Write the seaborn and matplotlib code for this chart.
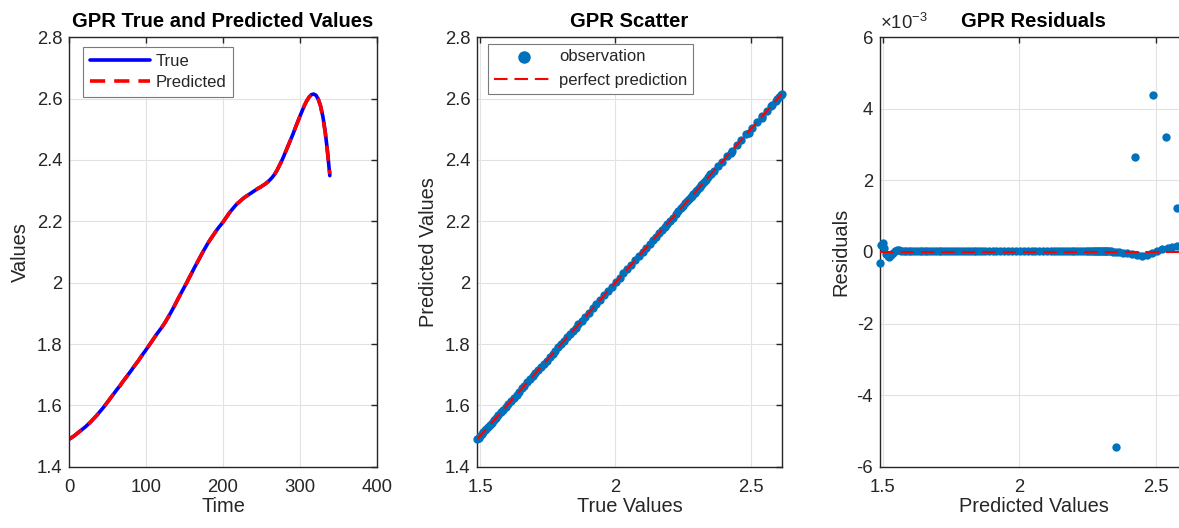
import matplotlib
matplotlib.use("Agg")
import matplotlib.pyplot as plt
import numpy as np
import pandas as pd
import seaborn as sns
from matplotlib.ticker import FixedLocator, FuncFormatter

# ---------------- data ----------------
time = [0, 3, 6, 9, 12, 15, 18, 21, 24, 27, 30, 33, 36, 39, 42, 45, 48, 51, 54,
        57, 60, 63, 66, 69, 72, 75, 78, 81, 84, 87, 90, 93, 96, 99, 102, 105,
        108, 111, 114, 117, 120, 123, 126, 129, 132, 135, 138, 141, 144, 147,
        150, 153, 156, 159, 162, 165, 168, 171, 174, 177, 180, 183, 186, 189,
        192, 195, 198, 201, 204, 207, 210, 213, 216, 219, 222, 225, 228, 231,
        234, 237, 240, 243, 246, 249, 252, 255, 258, 261, 264, 267, 270, 273,
        276, 279, 282, 285, 288, 291, 294, 297, 300, 303, 306, 309, 312, 315,
        318, 321, 324, 327, 330, 333, 336, 339]

true_vals = [1.490, 1.495, 1.500, 1.506, 1.512, 1.518, 1.524, 1.530, 1.537,
             1.544, 1.552, 1.560, 1.568, 1.577, 1.586, 1.595, 1.605, 1.615,
             1.625, 1.635, 1.645, 1.655, 1.664, 1.675, 1.685, 1.695, 1.705,
             1.715, 1.726, 1.736, 1.746, 1.757, 1.768, 1.778, 1.789, 1.800,
             1.811, 1.822, 1.833, 1.843, 1.853, 1.864, 1.876, 1.889, 1.902,
             1.916, 1.930, 1.945, 1.959, 1.973, 1.987, 2.001, 2.016, 2.030,
             2.045, 2.059, 2.073, 2.087, 2.101, 2.114, 2.127, 2.139, 2.150,
             2.161, 2.172, 2.182, 2.191, 2.201, 2.212, 2.223, 2.233, 2.242,
             2.251, 2.259, 2.265, 2.272, 2.278, 2.283, 2.288, 2.293, 2.298,
             2.303, 2.308, 2.312, 2.317, 2.322, 2.328, 2.335, 2.343, 2.353,
             2.365, 2.380, 2.395, 2.412, 2.430, 2.448, 2.466, 2.484, 2.504,
             2.523, 2.542, 2.560, 2.578, 2.593, 2.605, 2.613, 2.615, 2.611,
             2.598, 2.576, 2.541, 2.493, 2.427, 2.349]

residuals = [-0.00030, 0.00020, 0.00024, 0.00012, -0.00005, -0.00011, -0.00013,
             -0.00008, -0.00002, 0.00003, 0.00005, 0.00005, 0.00004, 0.00004,
             0.00004, 0.00004, 0.00003, 0.00004, 0.00003, 0.00003, 0.00004,
             0.00003, 0.00003, 0.00003, 0.00004, 0.00003, 0.00003, 0.00003,
             0.00003, 0.00004, 0.00003, 0.00003, 0.00003, 0.00003, 0.00003,
             0.00003, 0.00004, 0.00003, 0.00003, 0.00003, 0.00003, 0.00003,
             0.00003, 0.00003, 0.00004, 0.00003, 0.00003, 0.00003, 0.00003,
             0.00003, 0.00003, 0.00003, 0.00004, 0.00003, 0.00003, 0.00003,
             0.00003, 0.00003, 0.00003, 0.00003, 0.00003, 0.00003, 0.00003,
             0.00003, 0.00003, 0.00003, 0.00003, 0.00003, 0.00003, 0.00003,
             0.00003, 0.00003, 0.00003, 0.00003, 0.00003, 0.00003, 0.00003,
             0.00003, 0.00003, 0.00002, 0.00003, 0.00003, 0.00002, 0.00003,
             0.00003, 0.00002, 0.00002, 0.00002, 0.00001, 0.00001, 0.00000,
             -0.00002, -0.00004, -0.00006, -0.00009, -0.00010, -0.00008,
             -0.00004, 0.00002, 0.00007, 0.00011, 0.00015, 0.00018, 0.00016,
             0.00013, 0.00010, 0.00008, 0.00005, 0.00002, 0.00124, 0.00320,
             0.00439, 0.00265, -0.00544]

df = pd.DataFrame({"time": time, "true": true_vals, "resid": residuals})
df["pred"] = df["true"] - df["resid"]

# ---------------- style ----------------
sns.set_theme(style="white")
plt.rcParams["font.family"] = ["Liberation Sans", "DejaVu Sans"]
plt.rcParams["axes.unicode_minus"] = False
plt.rcParams["mathtext.fontset"] = "custom"
plt.rcParams["mathtext.rm"] = "Liberation Sans"
plt.rcParams["mathtext.it"] = "Liberation Sans:italic"
plt.rcParams["mathtext.bf"] = "Liberation Sans:bold"

W, H = 1179, 528
fig = plt.figure(figsize=(W / 100, H / 100), dpi=100)
fig.patch.set_facecolor("white")

top_px, bot_px = 37.3, 466.7


def add_ax(left_px, width_px):
    return fig.add_axes([left_px / W, 1 - bot_px / H, width_px / W, (bot_px - top_px) / H])


ax1 = add_ax(69.3, 307.4)
ax2 = add_ax(477.3, 304.4)
ax3 = add_ax(880.0, 307.5)

AX_COL = "#262626"
BLUE = "#0072BD"
MS = 36


def style(ax):
    ax.set_facecolor("white")
    for s in ax.spines.values():
        s.set_visible(True)
        s.set_color(AX_COL)
        s.set_linewidth(1.0)
    ax.tick_params(axis="both", which="major", direction="in", top=True, right=True,
                   length=4, width=1.0, color=AX_COL, labelcolor=AX_COL, labelsize=13.3)
    ax.tick_params(axis="x", pad=8.5)
    ax.tick_params(axis="y", pad=5)
    ax.grid(True, color="#e2e2e2", linewidth=0.8)
    ax.set_axisbelow(True)


gfmt = FuncFormatter(lambda v, p: f"{v:g}")

# ---------------- panel 1 ----------------
style(ax1)
sns.lineplot(data=df, x="time", y="true", ax=ax1, color="blue", lw=2.6,
             label="True", errorbar=None)
sns.lineplot(data=df, x="time", y="pred", ax=ax1, color="red", lw=2.6,
             linestyle=(0, (4.2, 2.5)), label="Predicted", errorbar=None)
ax1.set_xlim(0, 400)
ax1.set_ylim(1.4, 2.8)
ax1.xaxis.set_major_locator(FixedLocator([0, 100, 200, 300, 400]))
ax1.yaxis.set_major_locator(FixedLocator([1.4, 1.6, 1.8, 2.0, 2.2, 2.4, 2.6, 2.8]))
ax1.xaxis.set_major_formatter(gfmt)
ax1.yaxis.set_major_formatter(gfmt)
ax1.set_title("GPR True and Predicted Values", fontsize=14.6, fontweight="bold",
              color="black", pad=7.2)
ax1.set_xlabel("Time", fontsize=14.4, color=AX_COL, labelpad=1)
ax1.set_ylabel("Values", fontsize=14.4, color=AX_COL, labelpad=4.5)
leg1 = ax1.legend(loc="upper left", bbox_to_anchor=(14 / 307.4, 1 - 9.7 / 429.4),
                  borderaxespad=0, frameon=True, fancybox=False, framealpha=1,
                  edgecolor="#7a7a7a", fontsize=12, handlelength=3.6,
                  handletextpad=0.35, borderpad=0.4, labelspacing=0.38)
leg1.get_frame().set_linewidth(0.8)

# ---------------- panel 2 ----------------
style(ax2)
sns.scatterplot(data=df, x="true", y="pred", ax=ax2, s=MS, color=BLUE,
                linewidth=0, label="observation", zorder=3, clip_on=False)
lim_lo, lim_hi = df["true"].min(), df["true"].max()
sns.lineplot(x=[lim_lo, lim_hi], y=[lim_lo, lim_hi], ax=ax2, color="red", lw=1.5,
             linestyle=(0, (6.5, 3.3)), label="perfect prediction", zorder=4,
             errorbar=None)
ax2.set_xlim(lim_lo, lim_hi)
ax2.set_ylim(1.4, 2.8)
ax2.xaxis.set_major_locator(FixedLocator([1.5, 2.0, 2.5]))
ax2.yaxis.set_major_locator(FixedLocator([1.4, 1.6, 1.8, 2.0, 2.2, 2.4, 2.6, 2.8]))
ax2.xaxis.set_major_formatter(gfmt)
ax2.yaxis.set_major_formatter(gfmt)
ax2.set_title("GPR Scatter", fontsize=14.6, fontweight="bold", color="black", pad=7.2)
ax2.set_xlabel("True Values", fontsize=14.4, color=AX_COL, labelpad=1)
ax2.set_ylabel("Predicted Values", fontsize=14.4, color=AX_COL, labelpad=4.5)
leg2 = ax2.legend(loc="upper left", bbox_to_anchor=(11 / 304.4, 1 - 6.3 / 429.4),
                  borderaxespad=0, frameon=True, fancybox=False, framealpha=1,
                  edgecolor="#7a7a7a", fontsize=12, handlelength=3.6,
                  handletextpad=0.3, borderpad=0.35, labelspacing=0.5,
                  markerscale=1.5)
leg2.get_frame().set_linewidth(0.8)

# ---------------- panel 3 ----------------
style(ax3)
sns.scatterplot(data=df, x="pred", y="resid", ax=ax3, s=MS, color=BLUE,
                linewidth=0, zorder=3, legend=False, clip_on=False)
p_lo, p_hi = df["pred"].min(), df["pred"].max()
sns.lineplot(x=[p_lo, p_hi], y=[0, 0], ax=ax3, color="red", lw=1.5,
             linestyle=(0, (6.5, 3.3)), zorder=4, errorbar=None, legend=False)
ax3.set_xlim(p_lo, p_hi)
ax3.set_ylim(-6e-3, 6e-3)
ax3.xaxis.set_major_locator(FixedLocator([1.5, 2.0, 2.5]))
ax3.yaxis.set_major_locator(FixedLocator([-6e-3, -4e-3, -2e-3, 0, 2e-3, 4e-3, 6e-3]))
ax3.xaxis.set_major_formatter(gfmt)
ax3.yaxis.set_major_formatter(FuncFormatter(lambda v, p: f"{round(v * 1e3, 6):g}"))
ax3.set_title("GPR Residuals", fontsize=14.6, fontweight="bold", color="black", pad=7.2)
ax3.set_xlabel("Predicted Values", fontsize=14.4, color=AX_COL, labelpad=1)
ax3.set_ylabel("Residuals", fontsize=14.4, color=AX_COL, labelpad=4.5)
ax3.annotate(r"$\times$10$^{-3}$", xy=(0, 1), xycoords="axes fraction",
             xytext=(0, 3), textcoords="offset points", ha="left", va="bottom",
             fontsize=13.3, color=AX_COL)

fig.savefig("out.png", dpi=100, facecolor="white")
